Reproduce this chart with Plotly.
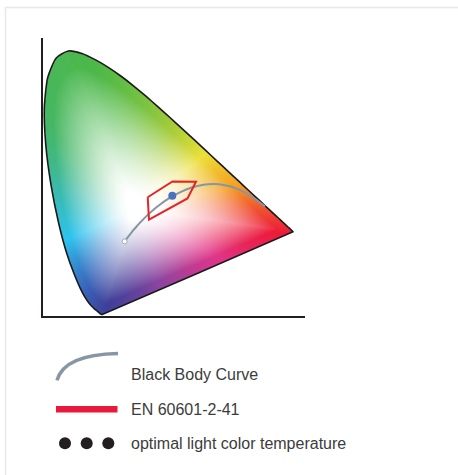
import base64, struct, zlib
import numpy as np
import plotly.graph_objects as go

# ---------------- data ----------------
# CIE 1931 spectral locus (380-700 nm, 5 nm steps)
wavelength_nm = list(range(380, 705, 5))
locus_x = [0.1741, 0.1740, 0.1738, 0.1736, 0.1733, 0.1730, 0.1726, 0.1721, 0.1714, 0.1703,
           0.1689, 0.1669, 0.1644, 0.1611, 0.1566, 0.1510, 0.1440, 0.1355, 0.1241, 0.1096,
           0.0913, 0.0687, 0.0454, 0.0235, 0.0082, 0.0039, 0.0139, 0.0389, 0.0743, 0.1142,
           0.1547, 0.1929, 0.2296, 0.2658, 0.3016, 0.3373, 0.3731, 0.4087, 0.4441, 0.4788,
           0.5125, 0.5448, 0.5752, 0.6029, 0.6270, 0.6482, 0.6658, 0.6801, 0.6915, 0.7006,
           0.7079, 0.7140, 0.7190, 0.7230, 0.7260, 0.7283, 0.7300, 0.7311, 0.7320, 0.7327,
           0.7334, 0.7340, 0.7344, 0.7346, 0.7347]
locus_y = [0.0050, 0.0050, 0.0049, 0.0049, 0.0048, 0.0048, 0.0048, 0.0048, 0.0051, 0.0058,
           0.0069, 0.0086, 0.0109, 0.0138, 0.0177, 0.0227, 0.0297, 0.0399, 0.0578, 0.0868,
           0.1327, 0.2007, 0.2950, 0.4127, 0.5384, 0.6548, 0.7502, 0.8120, 0.8338, 0.8262,
           0.8059, 0.7816, 0.7543, 0.7243, 0.6923, 0.6589, 0.6245, 0.5896, 0.5547, 0.5202,
           0.4866, 0.4544, 0.4242, 0.3965, 0.3725, 0.3514, 0.3340, 0.3197, 0.3083, 0.2993,
           0.2920, 0.2859, 0.2809, 0.2770, 0.2740, 0.2717, 0.2700, 0.2689, 0.2680, 0.2673,
           0.2666, 0.2660, 0.2656, 0.2654, 0.2653]

# Planckian (black body) locus, from infinite temperature down to 1000 K
bb_temp_k = ["inf", 50000, 30000, 20000, 15000, 12000, 10000, 9000, 8000, 7000, 6500, 6000,
             5500, 5000, 4500, 4000, 3500, 3000, 2800, 2600, 2400, 2200, 2000, 1800, 1600,
             1500, 1400, 1200, 1000]
bb_x = [0.2399, 0.2452, 0.2501, 0.2565, 0.2637, 0.2719, 0.2807, 0.2869, 0.2952, 0.3064, 0.3135,
        0.3221, 0.3325, 0.3451, 0.3608, 0.3805, 0.4053, 0.4369, 0.4519, 0.4682, 0.4862, 0.5056,
        0.5267, 0.5492, 0.5732, 0.5857, 0.5985, 0.6251, 0.6528]
bb_y = [0.2348, 0.2420, 0.2489, 0.2577, 0.2675, 0.2776, 0.2884, 0.2956, 0.3048, 0.3166, 0.3237,
        0.3318, 0.3411, 0.3516, 0.3636, 0.3768, 0.3907, 0.4041, 0.4086, 0.4123, 0.4147, 0.4152,
        0.4133, 0.4082, 0.3993, 0.3931, 0.3858, 0.3674, 0.3444]

# EN 60601-2-41 chromaticity region
en_x = [0.3077, 0.3805, 0.4496, 0.4246, 0.3115]
en_y = [0.3737, 0.4234, 0.4224, 0.3697, 0.3031]

# optimal light colour temperature point
opt_x = [0.380]
opt_y = [0.378]

legend_labels = ["Black Body Curve", "EN 60601-2-41", "optimal light color temperature"]

# ---------------- layout geometry (screen pixels) ----------------
W, H = 458, 475
L, R, T, B = 43, 153, 38, 158.5
PW, PH = W - L - R, H - T - B
X_MAX = 0.770
Y_MAX = 0.8747


def px(xp):
    return (xp - L) / PW


def py(yp):
    return (H - B - yp) / PH


# ---------------- chromaticity background (styling) ----------------
def png_data_uri(arr):
    h, w, _ = arr.shape
    raw = b"".join(b"\x00" + arr[i].tobytes() for i in range(h))

    def chunk(tag, data):
        c = tag + data
        return struct.pack(">I", len(data)) + c + struct.pack(">I", zlib.crc32(c) & 0xFFFFFFFF)

    png = b"\x89PNG\r\n\x1a\n" + chunk(b"IHDR", struct.pack(">IIBBBBB", w, h, 8, 6, 0, 0, 0)) \
        + chunk(b"IDAT", zlib.compress(raw, 9)) + chunk(b"IEND", b"")
    return "data:image/png;base64," + base64.b64encode(png).decode()


def hex2rgb(h):
    h = h.lstrip("#")
    return [int(h[i:i + 2], 16) / 255 for i in (0, 2, 4)]


WP = (0.275, 0.335)
hue_angles = [14, 41, 67, 105, 134, 163, 205, 240, 254, 286, 328, 350]
hue_colors = ["#f5a023", "#ebe03a", "#a8cd3a", "#4db848", "#45b766", "#3bbaa8", "#2ec3ee",
              "#3a62b8", "#3d3f99", "#8b45a0", "#e03589", "#ec1b3a"]
hue_gamma = [1.9, 2.0, 1.6, 1.25, 1.25, 1.3, 1.3, 1.2, 1.2, 1.35, 1.6, 1.7]
ang = np.array([hue_angles[-1] - 360] + hue_angles + [hue_angles[0] + 360], dtype=float)
cols = np.array([hex2rgb(c) for c in [hue_colors[-1]] + hue_colors + [hue_colors[0]]])
gams = np.array([hue_gamma[-1]] + hue_gamma + [hue_gamma[0]])

SC = 2
IW, IH = int(PW * SC), int(PH * SC)
gx = (np.arange(IW) + 0.5) / IW * X_MAX
gy = Y_MAX - (np.arange(IH) + 0.5) / IH * Y_MAX
GX, GY = np.meshgrid(gx, gy)

poly_x = np.array(locus_x)
poly_y = np.array(locus_y)
inside = np.zeros(GX.shape, dtype=bool)
n = len(poly_x)
j = n - 1
for i in range(n):
    xi, yi, xj, yj = poly_x[i], poly_y[i], poly_x[j], poly_y[j]
    cond = ((yi > GY) != (yj > GY))
    xint = (xj - xi) * (GY - yi) / (yj - yi + 1e-12) + xi
    inside ^= cond & (GX < xint)
    j = i

# boundary distance as a function of angle around the white point
cx_ = np.append(poly_x, poly_x[0])
cy_ = np.append(poly_y, poly_y[0])
dens_x, dens_y = [], []
for k in range(len(cx_) - 1):
    tt = np.linspace(0, 1, 60, endpoint=False)
    dens_x.append(cx_[k] + (cx_[k + 1] - cx_[k]) * tt)
    dens_y.append(cy_[k] + (cy_[k + 1] - cy_[k]) * tt)
dens_x = np.concatenate(dens_x)
dens_y = np.concatenate(dens_y)
b_ang = np.degrees(np.arctan2(dens_y - WP[1], dens_x - WP[0])) % 360
b_dist = np.hypot(dens_x - WP[0], dens_y - WP[1])
order = np.argsort(b_ang)
b_ang, b_dist = b_ang[order], b_dist[order]

p_ang = np.degrees(np.arctan2(GY - WP[1], GX - WP[0])) % 360
p_dist = np.hypot(GX - WP[0], GY - WP[1])
bd = np.interp(p_ang, b_ang, b_dist, period=360)
t = np.clip(p_dist / bd, 0, 1)
gam = np.interp(p_ang, ang, gams)
s = np.clip((t - 0.1) / 0.8, 0, 1) ** gam

hue = np.stack([np.interp(p_ang, ang, cols[:, c]) for c in range(3)], axis=-1)
rgb = 1 - (1 - hue) * s[..., None]
alpha = inside.astype(float)
img = np.dstack([np.clip(rgb, 0, 1), alpha[..., None]])
img = (img * 255).round().astype(np.uint8)
bg_uri = png_data_uri(img)

# ---------------- figure ----------------
fig = go.Figure()

fig.add_trace(go.Scatter(x=locus_x + [locus_x[0]], y=locus_y + [locus_y[0]], mode="lines",
                         line=dict(color="#1a1a1a", width=1.6, shape="spline", smoothing=0.6),
                         hoverinfo="skip"))
fig.add_trace(go.Scatter(x=bb_x, y=bb_y, mode="lines", line=dict(color="#8696a3", width=2, shape="spline"),
                         hoverinfo="skip"))
fig.add_trace(go.Scatter(x=bb_x[:1], y=bb_y[:1], mode="markers",
                         marker=dict(color="white", size=5, line=dict(color="#a3acb3", width=1)),
                         hoverinfo="skip"))
fig.add_trace(go.Scatter(x=en_x + [en_x[0]], y=en_y + [en_y[0]], mode="lines",
                         line=dict(color="#e52329", width=2), hoverinfo="skip"))
fig.add_trace(go.Scatter(x=opt_x, y=opt_y, mode="markers", marker=dict(color="#4a72c0", size=8),
                         hoverinfo="skip"))

shapes = []
# outer light frame
shapes.append(dict(type="path", xref="paper", yref="paper",
                   path=f"M {px(5.5)},{py(480)} L {px(5.5)},{py(7.5)} L {px(470)},{py(7.5)}",
                   line=dict(color="#e8e8e8", width=1.5)))
# legend: black body arc
shapes.append(dict(type="path", xref="paper", yref="paper",
                   path=f"M {px(57)},{py(381)} Q {px(64)},{py(355)} {px(118)},{py(354)}",
                   line=dict(color="#8696a3", width=3.5)))
# legend: red line
shapes.append(dict(type="line", xref="paper", yref="paper", x0=px(56), x1=px(117.5), y0=py(410), y1=py(410),
                   line=dict(color="#e8193c", width=6.5)))
# legend: dots
for cxp in [65, 86.7, 108.3]:
    shapes.append(dict(type="circle", xref="paper", yref="paper", x0=px(cxp - 6), x1=px(cxp + 6),
                       y0=py(444 + 6), y1=py(444 - 6), fillcolor="#231f20", line=dict(width=0)))

annotations = []
for lab, ycen in zip(legend_labels, [375.5, 410, 444]):
    annotations.append(dict(text=lab, xref="paper", yref="paper", x=px(129), y=py(ycen),
                            xanchor="left", yanchor="middle", showarrow=False,
                            font=dict(family="Liberation Sans, Arial, sans-serif", size=16, color="#3c3c3c")))

fig.update_layout(
    width=W, height=H, margin=dict(l=L, r=R, t=T, b=B, autoexpand=False),
    paper_bgcolor="white", plot_bgcolor="white", showlegend=False,
    shapes=shapes, annotations=annotations,
    images=[dict(source=bg_uri, xref="x", yref="y", x=0, y=Y_MAX, sizex=X_MAX, sizey=Y_MAX,
                 sizing="stretch", xanchor="left", yanchor="top", layer="below")],
    xaxis=dict(range=[0, X_MAX], showgrid=False, zeroline=False, showticklabels=False, ticks="",
               showline=True, linecolor="#231f20", linewidth=1.5, fixedrange=True),
    yaxis=dict(range=[0, Y_MAX], showgrid=False, zeroline=False, showticklabels=False, ticks="",
               showline=True, linecolor="#231f20", linewidth=1.5, fixedrange=True),
)

fig.write_html("out.html", config={"displayModeBar": False},
               post_script="document.body.style.margin='0';document.body.style.overflow='hidden';")
